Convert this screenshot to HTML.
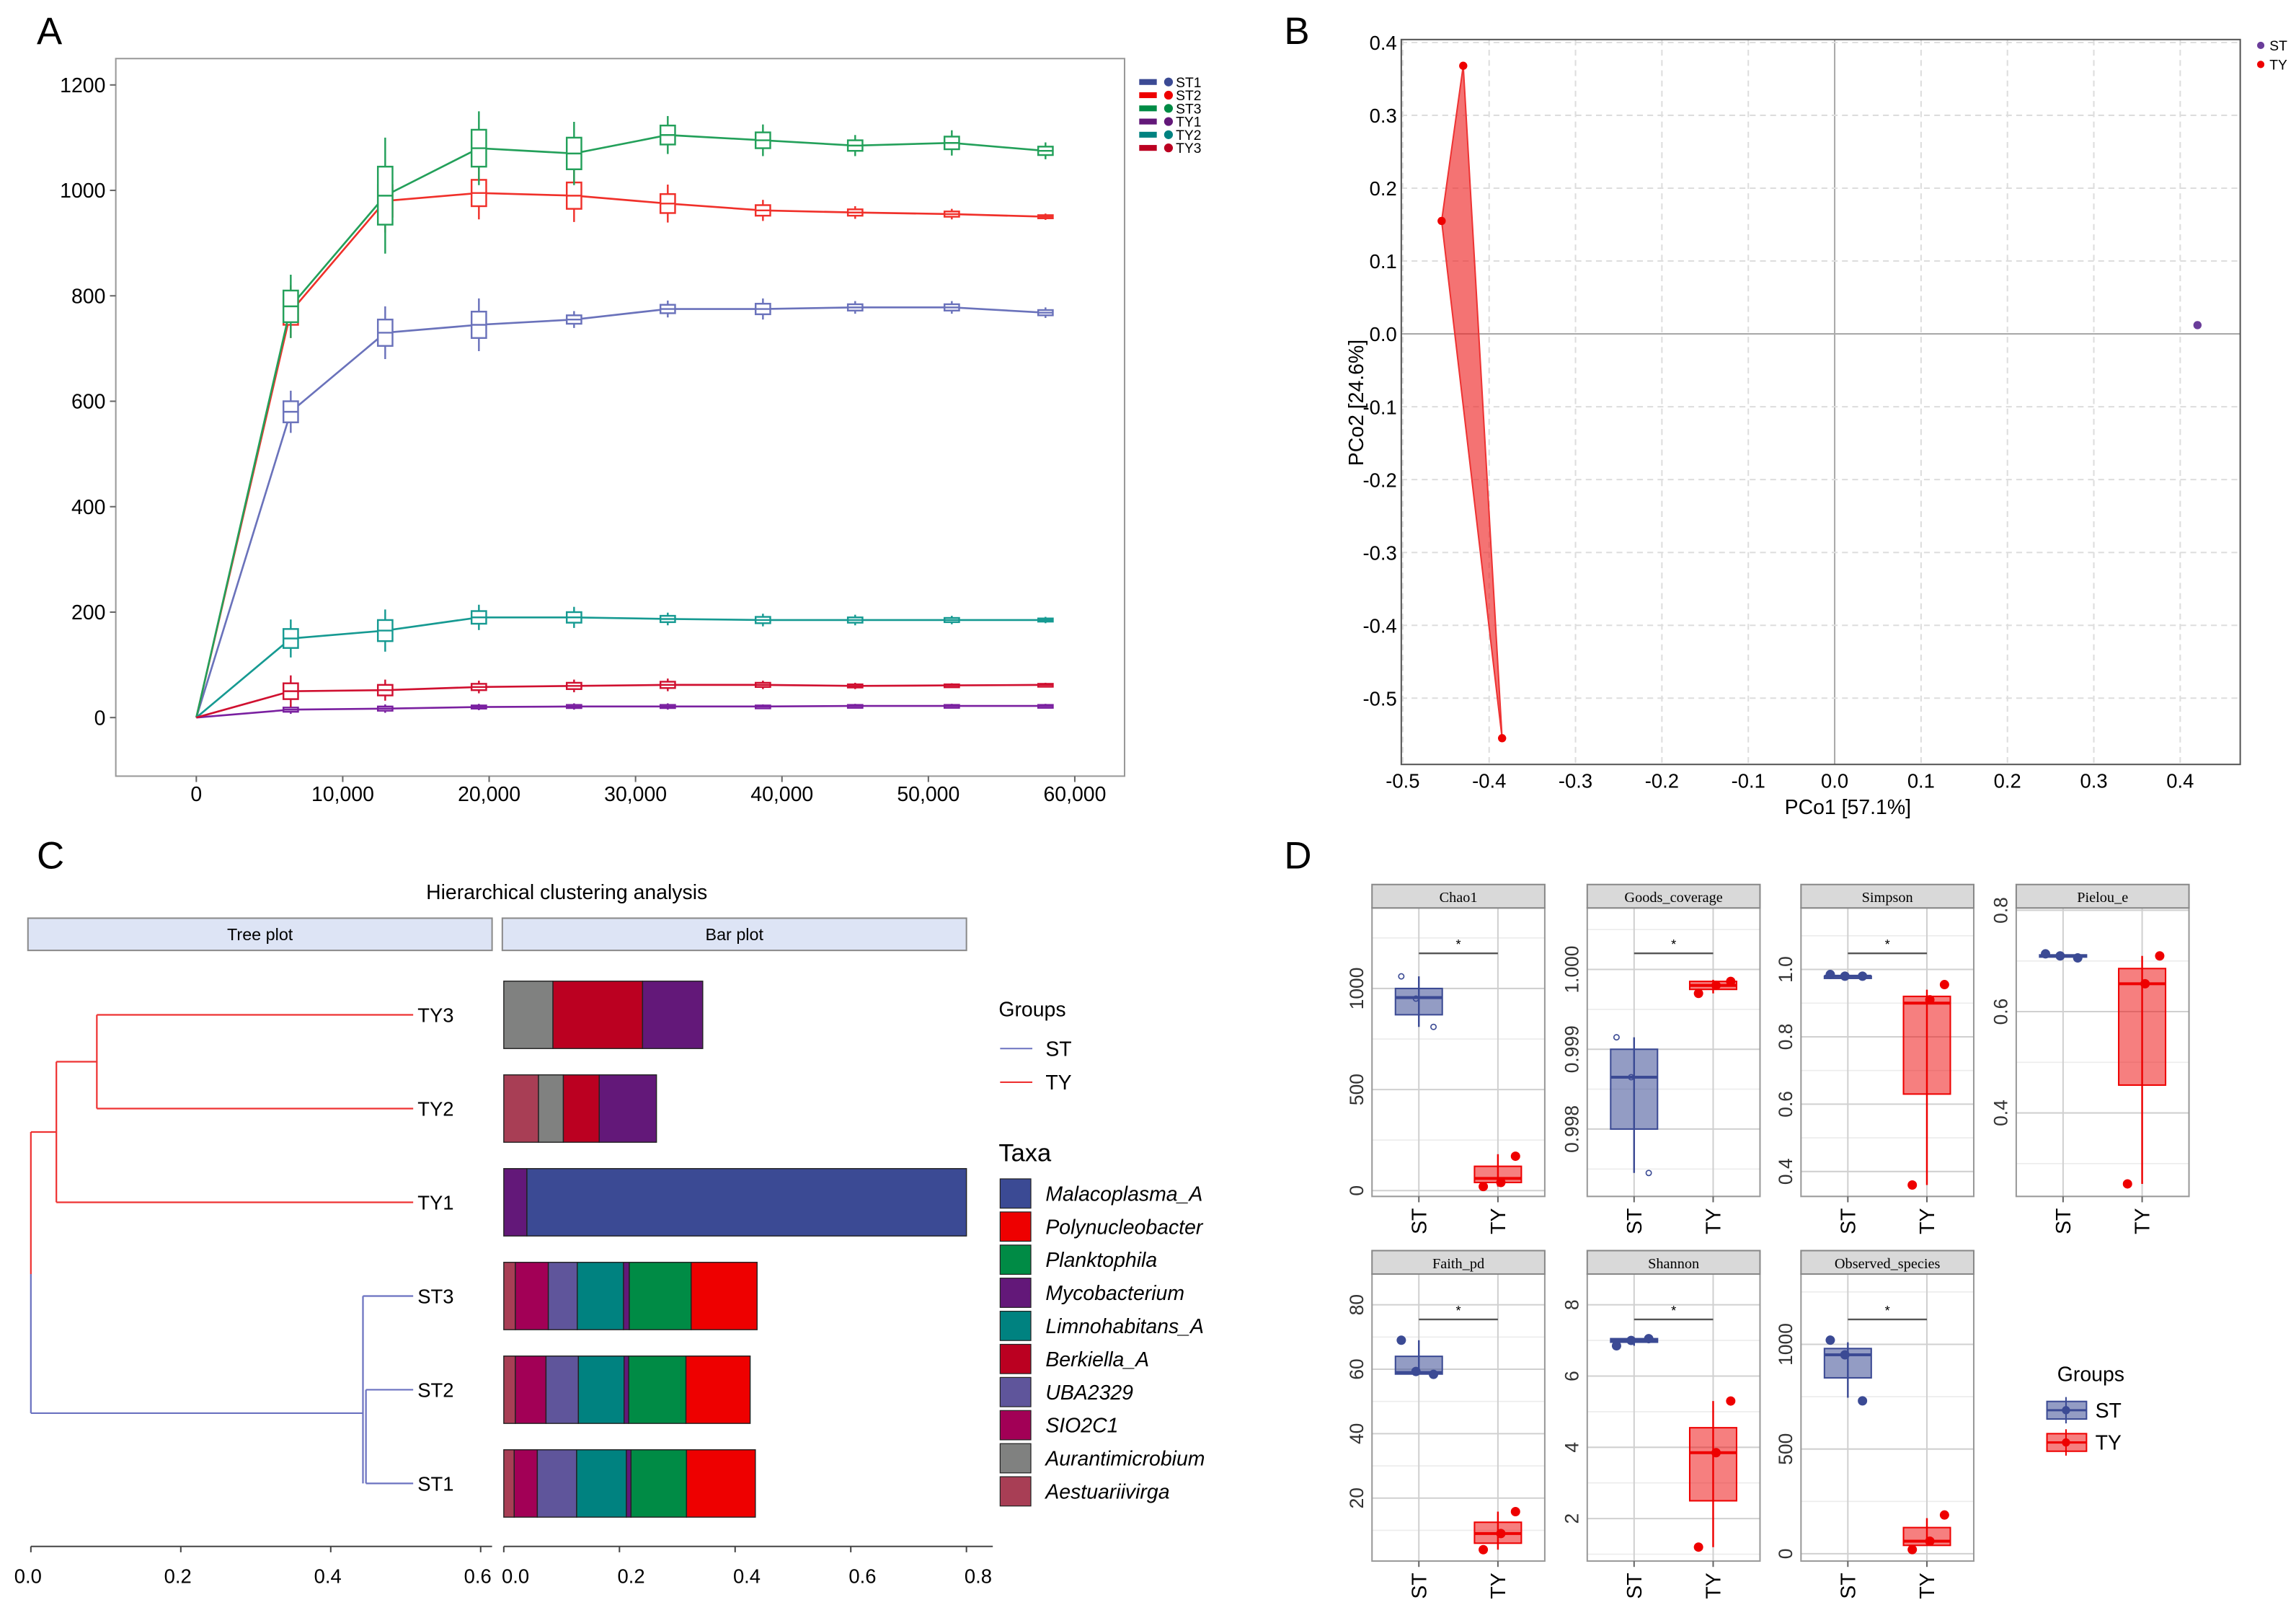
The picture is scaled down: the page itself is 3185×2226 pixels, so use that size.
<!DOCTYPE html>
<html><head><meta charset="utf-8"><style>
html,body{margin:0;padding:0;background:#fff}
svg{display:block;font-family:"Liberation Sans",sans-serif}
</style></head><body>
<svg id="fig" xmlns="http://www.w3.org/2000/svg" width="3185" height="2226" viewBox="0 0 1568 1096">
<rect x="0" y="0" width="1568" height="1096" fill="#fff"/>
<text x="25" y="30" font-size="26">A</text>
<text x="877" y="30" font-size="26">B</text>
<text x="25" y="593" font-size="26">C</text>
<text x="877" y="593" font-size="26">D</text>
<g id="pa"></g>
<g id="pb"></g>
<g id="pc"></g>
<g id="pd"></g>
</svg>
<script>
// ---------- Panel A data ----------
const aDepths = [0, 6450, 12900, 19300, 25800, 32200, 38700, 45000, 51600, 58000];
const aSeriesNames = ['ST1','ST2','ST3','TY1','TY2','TY3'];
const aST1 = [0,580,730,745,755,775,775,778,778,768];
const aST2 = [0,770,980,995,990,975,962,958,955,950];
const aST3 = [0,780,990,1080,1070,1105,1095,1085,1090,1075];
const aTY1 = [0,15,17,20,21,21,21,22,22,22];
const aTY2 = [0,150,165,190,190,187,185,185,185,185];
const aTY3 = [0,50,52,58,60,62,62,60,61,62];
const aST1Spread = [0,20,25,25,8,8,10,6,6,5];
const aST2Spread = [0,25,30,25,25,18,10,6,5,3];
const aST3Spread = [0,30,55,35,30,18,15,10,12,8];
const aTY1Spread = [0,4,4,3,3,3,2,2,2,2];
const aTY2Spread = [0,18,20,12,10,6,6,5,4,3];
const aTY3Spread = [0,15,10,6,6,6,4,3,2,2];
const aYTicks = [0,200,400,600,800,1000,1200];
const aXTicks = [0,10000,20000,30000,40000,50000,60000];
const aXTickLabels = ['0','10,000','20,000','30,000','40,000','50,000','60,000'];

// ---------- Panel B data ----------
const bTYx = [-0.455,-0.43,-0.385];
const bTYy = [0.155,0.368,-0.555];
const bSTx = [0.42];
const bSTy = [0.012];
const bXTicks = [-0.5,-0.4,-0.3,-0.2,-0.1,0,0.1,0.2,0.3,0.4];
const bYTicks = [0.4,0.3,0.2,0.1,0,-0.1,-0.2,-0.3,-0.4,-0.5];

// ---------- Panel C data ----------
const cSamples = ['TY3','TY2','TY1','ST3','ST2','ST1'];
const cTaxa = ['Malacoplasma_A','Polynucleobacter','Planktophila','Mycobacterium','Limnohabitans_A','Berkiella_A','UBA2329','SIO2C1','Aurantimicrobium','Aestuariivirga'];
const cTaxaColors = ['#3b4a94','#ee0000','#008b45','#631879','#008280','#bb0021','#5f559b','#a20056','#808180','#a83e55'];
// order of stacking: taxa indices
const cStackOrder = [9,8,7,6,5,4,3,2,1,0];
// abundance per sample, indexed like cTaxa
const cTY3 = [0,0,0,0.104,0,0.155,0,0,0.085,0];
const cTY2 = [0,0,0,0.099,0,0.062,0,0,0.043,0.06];
const cTY1 = [0.76,0,0,0.04,0,0,0,0,0,0];
const cST3 = [0,0.114,0.107,0.01,0.08,0,0.05,0.057,0,0.02];
const cST2 = [0,0.111,0.099,0.008,0.079,0,0.056,0.053,0,0.02];
const cST1 = [0,0.119,0.096,0.008,0.086,0,0.068,0.04,0,0.018];
const cTreeTicks = [0,0.2,0.4,0.6];
const cBarTicks = [0,0.2,0.4,0.6,0.8];
// tree merge heights
const cMergeTY23 = 0.088, cMergeTY = 0.034, cMergeST12 = 0.447, cMergeST = 0.443, cRoot = 0;

// ---------- Panel D data: [lo, q1, median, q3, hi] and points ----------
const dNames = ['Chao1','Goods_coverage','Simpson','Pielou_e','Faith_pd','Shannon','Observed_species'];
const dChao1ST = [810,870,955,1000,1060], dChao1STp = [1060,950,810];
const dChao1TY = [20,40,60,120,180], dChao1TYp = [170,40,20];
const dGoodsST = [0.99745,0.998,0.99865,0.999,0.99915], dGoodsSTp = [0.99915,0.99865,0.99745];
const dGoodsTY = [0.9997,0.99975,0.9998,0.99985,0.99987], dGoodsTYp = [0.99985,0.9998,0.9997];
const dSimpST = [0.98,0.98,0.98,0.98,0.985], dSimpSTp = [0.985,0.98,0.98];
const dSimpTY = [0.36,0.63,0.9,0.92,0.94], dSimpTYp = [0.955,0.91,0.36];
const dPielST = [0.705,0.708,0.71,0.712,0.716], dPielSTp = [0.714,0.71,0.706];
const dPielTY = [0.26,0.455,0.655,0.685,0.71], dPielTYp = [0.71,0.655,0.26];
const dFaithST = [58.4,58.5,59,64,69], dFaithSTp = [69,59.3,58.4];
const dFaithTY = [4,6,9,12.5,15.8], dFaithTYp = [15.8,9,4];
const dShanST = [6.85,6.95,7.0,7.05,7.05], dShanSTp = [6.85,7.0,7.05];
const dShanTY = [1.2,2.5,3.85,4.55,5.3], dShanTYp = [5.3,3.85,1.2];
const dObsST = [745,840,950,980,1010], dObsSTp = [1020,950,730];
const dObsTY = [40,40,60,125,170], dObsTYp = [185,60,20];
const dTicks = [[0,500,1000],[0.998,0.999,1.000],[0.4,0.6,0.8,1.0],[0.4,0.6,0.8],[20,40,60,80],[2,4,6,8],[0,500,1000]];
const dTickLabels = [['0','500','1000'],['0.998','0.999','1.000'],['0.4','0.6','0.8','1.0'],['0.4','0.6','0.8'],['20','40','60','80'],['2','4','6','8'],['0','500','1000']];

const NS='http://www.w3.org/2000/svg';
function mk(parent, tag, attrs, text){
  const e=document.createElementNS(NS,tag);
  for(const k in attrs) e.setAttribute(k,attrs[k]);
  if(text!==undefined) e.textContent=text;
  parent.appendChild(e); return e;
}

// ================= PANEL A =================
(function(){
  const g=document.getElementById('pa');
  const xS=v=>134+v*0.01, yS=v=>490-v*0.36;
  let r=mk(g,'rect',{x:79,y:40,width:689,height:490,fill:'none',stroke:'#999','stroke-width':1});
  
  
  aYTicks.forEach(t=>{
    const tl=mk(g,'line',{x1:75,x2:79,y1:yS(t),y2:yS(t),stroke:'#666'});
    
    
    const tx=mk(g,'text',{x:72,y:yS(t)+5,'font-size':14,'text-anchor':'end'},String(t));
    
    
  });
  aXTicks.forEach((t,i)=>{
    const tl=mk(g,'line',{x1:xS(t),x2:xS(t),y1:530,y2:534,stroke:'#666'});
    
    
    const tx=mk(g,'text',{x:xS(t),y:547,'font-size':14,'text-anchor':'middle'},aXTickLabels[i]);
    
    
  });
  const series=[aST1,aST2,aST3,aTY1,aTY2,aTY3];
  const spreads=[aST1Spread,aST2Spread,aST3Spread,aTY1Spread,aTY2Spread,aTY3Spread];
  const lineCols=['#6a72bb','#f0302a','#23a05a','#7a20a0','#169a92','#d01030'];
  const legCols=['#3b4a94','#ee0000','#008b45','#631879','#008280','#bb0021'];
  series.forEach((s,k)=>{
    const pts=s.map((v,i)=>xS(aDepths[i])+','+yS(v)).join(' ');
    const pl=mk(g,'polyline',{points:pts,fill:'none',stroke:lineCols[k],'stroke-width':1.3});
    
    
    s.forEach((v,i)=>{
      if(i===0) return;
      const sp=spreads[k][i], cx=xS(aDepths[i]);
      const bx=mk(g,'g',{stroke:lineCols[k],'stroke-width':1.2,fill:'none'});
      
      
      mk(bx,'line',{x1:cx,x2:cx,y1:yS(v+sp*2),y2:yS(v-sp*2)});
      mk(bx,'rect',{x:cx-5,y:yS(v+sp),width:10,height:Math.max(2,yS(v-sp)-yS(v+sp)),fill:'#fff'});
      mk(bx,'line',{x1:cx-5,x2:cx+5,y1:yS(v),y2:yS(v)});
    });
  });
  aSeriesNames.forEach((n,k)=>{
    const y=56+k*9;
    const le=mk(g,'g',{});
    
    
    mk(le,'rect',{x:778,y:y-2,width:12,height:4,fill:legCols[k]});
    mk(le,'circle',{cx:798,cy:y,r:3,fill:legCols[k]});
    mk(le,'text',{x:803,y:y+3.5,'font-size':9.5},n);
  });
})();

// ================= PANEL B =================
(function(){
  const g=document.getElementById('pb');
  const xS=v=>1253+v*590, yS=v=>228-v*497.5;
  bXTicks.forEach(t=>{
    const l=mk(g,'line',{x1:xS(t),x2:xS(t),y1:27,y2:522,stroke:t===0?'#aaa':'#ddd','stroke-dasharray':t===0?'':'4,3'});
    
    
    const tx=mk(g,'text',{x:xS(t),y:538,'font-size':13.5,'text-anchor':'middle'},t.toFixed(1));
    
    
  });
  bYTicks.forEach(t=>{
    const l=mk(g,'line',{x1:957,x2:1530,y1:yS(t),y2:yS(t),stroke:t===0?'#aaa':'#ddd','stroke-dasharray':t===0?'':'4,3'});
    
    
    const tx=mk(g,'text',{x:954,y:yS(t)+5,'font-size':13.5,'text-anchor':'end'},t.toFixed(1));
    
    
  });
  const r=mk(g,'rect',{x:957,y:27,width:573,height:495,fill:'none',stroke:'#555'});
  
  
  const poly=mk(g,'polygon',{points:bTYx.map((x,i)=>xS(x)+','+yS(bTYy[i])).join(' '),fill:'rgba(238,40,40,0.65)',stroke:'#e33','stroke-width':1});
  
  
  bTYx.forEach((x,i)=>{
    const c=mk(g,'circle',{cx:xS(x),cy:yS(bTYy[i]),r:2.8,fill:'#ee0000'});
    
    
  });
  bSTx.forEach((x,i)=>{
    const c=mk(g,'circle',{cx:xS(x),cy:yS(bSTy[i]),r:2.8,fill:'#6a3d9a'});
    
    
  });
  const xt=mk(g,'text',{x:1262,y:556,'font-size':14,'text-anchor':'middle'},'PCo1 [57.1%]');
  
  
  const yt=mk(g,'text',{x:0,y:0,'font-size':14,'text-anchor':'middle',transform:'translate(931,275) rotate(-90)'},'PCo2 [24.6%]');
  
  
  const l1=mk(g,'g',{});
  
  
  mk(l1,'circle',{cx:1544,cy:31,r:2.5,fill:'#6a3d9a'});
  mk(l1,'text',{x:1550,y:34.5,'font-size':9.5},'ST');
  const l2=mk(g,'g',{});
  
  
  mk(l2,'circle',{cx:1544,cy:44,r:2.5,fill:'#ee0000'});
  mk(l2,'text',{x:1550,y:47.5,'font-size':9.5},'TY');
})();

// ================= PANEL C =================
(function(){
  const g=document.getElementById('pc');
  const leafY=[693,757,821,885,949,1013];
  const tX=v=>21+v*512, bX=v=>344+v*395;
  const t=mk(g,'text',{x:387,y:614,'font-size':14,'text-anchor':'middle'},'Hierarchical clustering analysis');
  
  
  [['Tree plot',19,336],['Bar plot',343,660]].forEach(s=>{
    const sg=mk(g,'g',{});
    
    
    mk(sg,'rect',{x:s[1],y:627,width:s[2]-s[1],height:22,fill:'#dde4f5',stroke:'#8a8a8a'});
    mk(sg,'text',{x:(s[1]+s[2])/2,y:642,'font-size':11.5,'text-anchor':'middle'},s[0]);
  });
  // tree
  const red='#ee3333', blue='#6b72c0';
  const tr=mk(g,'g',{fill:'none','stroke-width':1.1});
  
  
  const yTY23=(leafY[0]+leafY[1])/2, yTY=(yTY23+leafY[2])/2;
  const yST12=(leafY[4]+leafY[5])/2, yST=(leafY[3]+yST12)/2;
  const leafX=tX(0.51);
  [[0,cMergeTY23,red],[1,cMergeTY23,red],[2,cMergeTY,red]].forEach(a=>mk(tr,'line',{x1:tX(a[1]),x2:leafX,y1:leafY[a[0]],y2:leafY[a[0]],stroke:a[2]}));
  mk(tr,'line',{x1:tX(cMergeTY23),x2:tX(cMergeTY23),y1:leafY[0],y2:leafY[1],stroke:red});
  mk(tr,'line',{x1:tX(cMergeTY),x2:tX(cMergeTY23),y1:yTY23,y2:yTY23,stroke:red});
  mk(tr,'line',{x1:tX(cMergeTY),x2:tX(cMergeTY),y1:yTY23,y2:leafY[2],stroke:red});
  mk(tr,'line',{x1:tX(cRoot),x2:tX(cMergeTY),y1:yTY,y2:yTY,stroke:red});
  mk(tr,'line',{x1:tX(cRoot),x2:tX(cRoot),y1:yTY,y2:870,stroke:red});
  mk(tr,'line',{x1:tX(cRoot),x2:tX(cRoot),y1:870,y2:965,stroke:blue});
  mk(tr,'line',{x1:tX(cRoot),x2:tX(cMergeST),y1:965,y2:965,stroke:blue});
  mk(tr,'line',{x1:tX(cMergeST),x2:tX(cMergeST),y1:leafY[3],y2:leafY[5],stroke:blue});
  mk(tr,'line',{x1:tX(cMergeST),x2:leafX,y1:leafY[3],y2:leafY[3],stroke:blue});
  mk(tr,'line',{x1:tX(cMergeST12),x2:leafX,y1:leafY[4],y2:leafY[4],stroke:blue});
  mk(tr,'line',{x1:tX(cMergeST12),x2:leafX,y1:leafY[5],y2:leafY[5],stroke:blue});
  mk(tr,'line',{x1:tX(cMergeST12),x2:tX(cMergeST12),y1:leafY[4],y2:leafY[5],stroke:blue});
  cSamples.forEach((s,i)=>{
    const tx=mk(g,'text',{x:leafX+3,y:leafY[i]+5,'font-size':13.5},s);
    
    
  });
  // bars
  const data=[cTY3,cTY2,cTY1,cST3,cST2,cST1];
  data.forEach((row,i)=>{
    let acc=0;
    cStackOrder.forEach(ti=>{
      const v=row[ti]; if(v<=0) return;
      const b=mk(g,'rect',{x:bX(acc),y:leafY[i]-23,width:bX(acc+v)-bX(acc),height:46,fill:cTaxaColors[ti],stroke:'#222','stroke-width':0.7});
      
      
      acc+=v;
    });
  });
  // axes
  const ax=mk(g,'g',{stroke:'#444','stroke-width':1});
  
  
  mk(ax,'line',{x1:tX(0),x2:336,y1:1056,y2:1056});
  mk(ax,'line',{x1:bX(0),x2:678,y1:1056,y2:1056});
  cTreeTicks.forEach(t=>{
    mk(ax,'line',{x1:tX(t),x2:tX(t),y1:1056,y2:1060});
    const tx=mk(g,'text',{x:tX(t)-2,y:1081,'font-size':13.5,'text-anchor':'middle'},t.toFixed(1));
    
    
  });
  cBarTicks.forEach(t=>{
    mk(ax,'line',{x1:bX(t),x2:bX(t),y1:1056,y2:1060});
    const tx=mk(g,'text',{x:bX(t)+8,y:1081,'font-size':13.5,'text-anchor':'middle'},t.toFixed(1));
    
    
  });
  // legend
  const lg=mk(g,'g',{});
  
  
  mk(lg,'text',{x:682,y:694,'font-size':14},'Groups');
  [['ST',716,blue],['TY',739,red]].forEach(a=>{
    const e=mk(lg,'g',{});
    
    
    mk(e,'line',{x1:683,x2:705,y1:a[1],y2:a[1],stroke:a[2]});
    mk(e,'text',{x:714,y:a[1]+5,'font-size':14},a[0]);
  });
  mk(lg,'text',{x:682,y:793,'font-size':17},'Taxa');
  cTaxa.forEach((n,i)=>{
    const y=815+i*22.6;
    const e=mk(lg,'g',{});
    
    
    mk(e,'rect',{x:683,y:y-10,width:21,height:20,fill:cTaxaColors[i],stroke:'#222','stroke-width':0.6});
    mk(e,'text',{x:714,y:y+5,'font-size':14,'font-style':'italic'},n);
  });
})();

// ================= PANEL D =================
(function(){
  const g=document.getElementById('pd');
  const layout=[
    {x:937,top:604,bot:817,v0:0,y0:813,v1:1000,y1:675,sig:651,hollow:true},
    {x:1084,top:604,bot:817,v0:0.998,y0:771,v1:1.000,y1:662,sig:651,hollow:true},
    {x:1230,top:604,bot:817,v0:0.4,y0:800,v1:1.0,y1:662,sig:651,hollow:false},
    {x:1377,top:604,bot:817,v0:0.4,y0:760,v1:0.8,y1:621.6,sig:null,hollow:false},
    {x:937,top:854,bot:1066,v0:20,y0:1023,v1:80,y1:891,sig:901,hollow:false},
    {x:1084,top:854,bot:1066,v0:2,y0:1037,v1:8,y1:891,sig:901,hollow:false},
    {x:1230,top:854,bot:1066,v0:0,y0:1061,v1:1000,y1:918,sig:901,hollow:false}
  ];
  const boxes=[[dChao1ST,dChao1TY],[dGoodsST,dGoodsTY],[dSimpST,dSimpTY],[dPielST,dPielTY],[dFaithST,dFaithTY],[dShanST,dShanTY],[dObsST,dObsTY]];
  const pts=[[dChao1STp,dChao1TYp],[dGoodsSTp,dGoodsTYp],[dSimpSTp,dSimpTYp],[dPielSTp,dPielTYp],[dFaithSTp,dFaithTYp],[dShanSTp,dShanTYp],[dObsSTp,dObsTYp]];
  const jit=[-12,-2,10];
  const W=118;
  layout.forEach((L,k)=>{
    const pg=mk(g,'g',{});
    
    
    const yS=v=>L.y0+(v-L.v0)*(L.y1-L.y0)/(L.v1-L.v0);
    const pt=L.top+16;
    mk(pg,'rect',{x:L.x,y:pt,width:W,height:L.bot-pt,fill:'#fff'});
    // minor/major grid
    const ticks=dTicks[k];
    const step=ticks[1]-ticks[0];
    for(let i=-1;i<=ticks.length;i++){
      const v=ticks[0]+i*step;
      const ym=yS(v), yh=yS(v+step/2);
      if(ym>pt&&ym<L.bot) mk(pg,'line',{x1:L.x,x2:L.x+W,y1:ym,y2:ym,stroke:'#d0d0d0','stroke-width':1});
      if(yh>pt&&yh<L.bot) mk(pg,'line',{x1:L.x,x2:L.x+W,y1:yh,y2:yh,stroke:'#ececec','stroke-width':0.8});
    }
    const xST=L.x+32, xTY=L.x+86;
    [xST,xTY].forEach(x=>mk(pg,'line',{x1:x,x2:x,y1:pt,y2:L.bot,stroke:'#d0d0d0'}));
    mk(pg,'rect',{x:L.x,y:pt,width:W,height:L.bot-pt,fill:'none',stroke:'#999'});
    mk(pg,'rect',{x:L.x,y:L.top,width:W,height:16,fill:'#d9d9d9',stroke:'#888'});
    mk(pg,'text',{x:L.x+W/2,y:L.top+12,'font-size':10,'text-anchor':'middle','font-family':'Liberation Serif, serif'},dNames[k]);
    ticks.forEach((t,i)=>{
      const tx=mk(pg,'text',{x:0,y:0,'font-size':13,'text-anchor':'middle',fill:'#333',transform:'translate('+(L.x-6)+','+yS(t)+') rotate(-90)'},dTickLabels[k][i]);
      
      
    });
    [['ST',xST],['TY',xTY]].forEach(a=>{
      mk(pg,'line',{x1:a[1],x2:a[1],y1:L.bot,y2:L.bot+4,stroke:'#666'});
      const tx=mk(pg,'text',{x:0,y:0,'font-size':14,'text-anchor':'end',transform:'translate('+(a[1]+5)+','+(L.bot+8)+') rotate(-90)'},a[0]);
      
      
    });
    if(L.sig){
      mk(pg,'line',{x1:xST,x2:xTY,y1:L.sig,y2:L.sig,stroke:'#555','stroke-width':1.2});
      mk(pg,'text',{x:(xST+xTY)/2,y:L.sig-3,'font-size':9,'text-anchor':'middle'},'*');
    }
    [['st',xST,'#3b4a94','rgba(59,74,148,0.55)'],['ty',xTY,'#ee0000','rgba(238,0,0,0.5)']].forEach((gr,j)=>{
      const b=boxes[k][j];
      const bg=mk(pg,'g',{});
      
      
      mk(bg,'line',{x1:gr[1],x2:gr[1],y1:yS(b[0]),y2:yS(b[4]),stroke:gr[2],'stroke-width':1.2});
      mk(bg,'rect',{x:gr[1]-16,y:yS(b[3]),width:32,height:Math.max(1.5,yS(b[1])-yS(b[3])),fill:gr[3],stroke:gr[2],'stroke-width':1});
      mk(bg,'line',{x1:gr[1]-16,x2:gr[1]+16,y1:yS(b[2]),y2:yS(b[2]),stroke:gr[2],'stroke-width':2});
      pts[k][j].forEach((v,i)=>{
        const hol=L.hollow&&j===0;
        const c=mk(bg,'circle',{cx:gr[1]+jit[i]*(j===0?1:-1),cy:yS(v),r:hol?1.8:2.8,fill:hol?'none':gr[2],stroke:gr[2],'stroke-width':0.8});
        
        
      });
    });
  });
  const lg=mk(g,'g',{});
  
  
  mk(lg,'text',{x:1405,y:943,'font-size':14},'Groups');
  [['ST',963,'#3b4a94','rgba(59,74,148,0.55)'],['TY',985,'#ee0000','rgba(238,0,0,0.5)']].forEach(a=>{
    const e=mk(lg,'g',{});
    
    
    mk(e,'line',{x1:1411,x2:1411,y1:a[1]-9,y2:a[1]+9,stroke:a[2]});
    mk(e,'rect',{x:1398,y:a[1]-6,width:27,height:12,fill:a[3],stroke:a[2]});
    mk(e,'line',{x1:1398,x2:1425,y1:a[1],y2:a[1],stroke:a[2],'stroke-width':1.5});
    mk(e,'circle',{cx:1411,cy:a[1],r:2.8,fill:a[2]});
    mk(e,'text',{x:1431,y:a[1]+5,'font-size':14},a[0]);
  });
})();
</script>
</body></html>
